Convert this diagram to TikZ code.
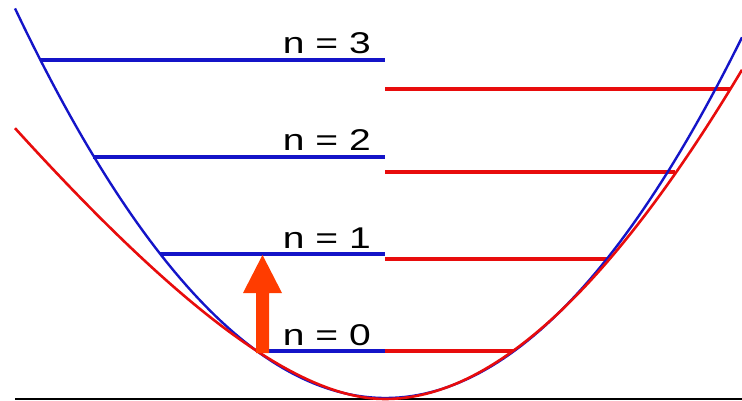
\documentclass[tikz,border=0pt]{standalone}
\usepackage{fontspec}
\setmainfont{Liberation Sans}
\definecolor{bluec}{RGB}{20,20,200}
\definecolor{redc}{RGB}{232,12,12}
\definecolor{arrowc}{RGB}{255,60,0}
\begin{document}
\begin{tikzpicture}[x=1pt,y=-1pt,
  bluelevel/.style={draw=bluec,line width=3.2pt},
  redlevel/.style={draw=redc,line width=3.2pt},
  bluecurve/.style={draw=bluec,line width=2.4pt},
  redcurve/.style={draw=redc,line width=2.6pt,line join=round},
  lab/.style={anchor=base east,inner sep=0pt,font=\fontsize{30}{36}\selectfont,xscale=1.3}]
\useasboundingbox (0,0) rectangle (742,401);
% baseline
\coordinate (bl) at (15,399);
\coordinate (br) at (742,399);
\draw[line width=2pt,black] (bl) -- (br);
% blue levels
\coordinate (b0l) at (257,351); \coordinate (b0r) at (385,351);
\coordinate (b1l) at (160,254); \coordinate (b1r) at (385,254);
\coordinate (b2l) at (93,157);  \coordinate (b2r) at (385,157);
\coordinate (b3l) at (40,60);   \coordinate (b3r) at (385,60);
\draw[bluelevel] (b0l) -- (b0r);
\draw[bluelevel] (b1l) -- (b1r);
\draw[bluelevel] (b2l) -- (b2r);
\draw[bluelevel] (b3l) -- (b3r);
% red levels
\coordinate (r0l) at (385,351); \coordinate (r0r) at (513,351);
\coordinate (r1l) at (385,259); \coordinate (r1r) at (610,259);
\coordinate (r2l) at (385,172); \coordinate (r2r) at (675,172);
\coordinate (r3l) at (385,89);  \coordinate (r3r) at (730,89);
\draw[redlevel] (r0l) -- (r0r);
\draw[redlevel] (r1l) -- (r1r);
\draw[redlevel] (r2l) -- (r2r);
\draw[redlevel] (r3l) -- (r3r);
% blue parabola
\draw[bluecurve] plot[domain=15:742,samples=120] (\x,{398-0.002832*(\x-385.5)*(\x-385.5)});
% red curve (anharmonic, wider on the left)
\draw[redcurve] plot[domain=15:385,samples=80] (\x,{399-0.003926*(385-\x)*(385-\x)/(1+0.002658*(385-\x))})
  -- plot[domain=385:742,samples=80] (\x,{399-0.003169*(\x-385)*(\x-385)/(1+0.000637*(\x-385))});
% labels
\node[lab] (l0) at (371,345) {n = 0};
\node[lab] (l1) at (371,248) {n = 1};
\node[lab] (l2) at (371,151) {n = 2};
\node[lab] (l3) at (371,54) {n = 3};
% arrow
\coordinate (af) at (262.5,353);
\coordinate (at) at (262.5,255);
\fill[arrowc] (256,353) -- (256,293) -- (243,293) -- (at) -- (282,293) -- (269,293) -- (269,353) -- cycle;
\end{tikzpicture}
\end{document}
